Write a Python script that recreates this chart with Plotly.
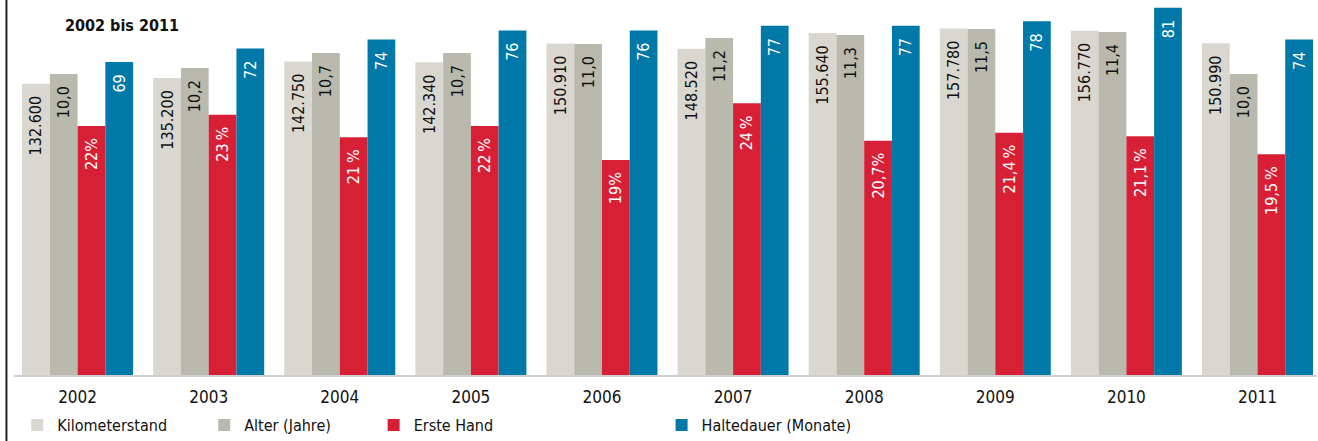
import plotly.graph_objects as go

years = ["2002", "2003", "2004", "2005", "2006", "2007", "2008", "2009", "2010", "2011"]
km = [132600, 135200, 142750, 142340, 150910, 148520, 155640, 157780, 156770, 150990]
km_text = ["132.600", "135.200", "142.750", "142.340", "150.910", "148.520", "155.640", "157.780", "156.770", "150.990"]
alter = [10.0, 10.2, 10.7, 10.7, 11.0, 11.2, 11.3, 11.5, 11.4, 10.0]
alter_text = ["10,0", "10,2", "10,7", "10,7", "11,0", "11,2", "11,3", "11,5", "11,4", "10,0"]
erste = [22, 23, 21, 22, 19, 24, 20.7, 21.4, 21.1, 19.5]
erste_text = ["22%", "23\u2009%", "21\u2009%", "22\u2009%", "19%", "24\u2009%", "20,7%", "21,4\u2009%", "21,1\u2009%", "19,5\u2009%"]
halte = [69, 72, 74, 76, 76, 77, 77, 78, 81, 74]
halte_text = ["69", "72", "74", "76", "76", "77", "77", "78", "81", "74"]

names = ["Kilometerstand", "Alter (Jahre)", "Erste Hand", "Haltedauer (Monate)"]
colors = ["#D9D7CF", "#B9B9AD", "#D72036", "#0079A8"]
text_colors = ["#111111", "#111111", "#FFFFFF", "#FFFFFF"]
series = [km, alter, erste, halte]
texts = [km_text, alter_text, erste_text, halte_text]
yranges = [[0, 170720], [0, 12.46], [0, 33.13], [0, 82.7]]
legend_x = [0.0025, 0.146, 0.276, 0.497]

FONT = "Liberation Sans Narrow, DejaVu Sans Condensed, Arial Narrow, sans-serif"
x = list(range(len(years)))
bw = 0.2117

fig = go.Figure()
for i in range(4):
    fig.add_trace(go.Bar(
        x=x, y=series[i], name=names[i],
        marker=dict(color=colors[i], line=dict(width=0)),
        width=bw, offset=(i - 2) * bw,
        text=texts[i], texttemplate="%{text}\u00a0\u00a0",
        textposition="inside", insidetextanchor="end", textangle=-90,
        textfont=dict(family=FONT, size=16, color=text_colors[i]),
        yaxis="y" if i == 0 else f"y{i+1}",
        legend="legend" if i == 0 else f"legend{i+1}",
        showlegend=True,
        hoverinfo="skip",
    ))

layout = dict(
    width=1318, height=441,
    margin=dict(l=14, r=1, t=0, b=66, autoexpand=False),
    plot_bgcolor="white", paper_bgcolor="white",
    barmode="overlay", showlegend=True,
    font=dict(family=FONT, size=16, color="#111111"),
    xaxis=dict(range=[-0.485, 9.454], tickmode="array", tickvals=x, ticktext=years,
               showgrid=False, zeroline=False, showline=True, linecolor="#CFCFCF",
               linewidth=2, ticks="", ticklabelstandoff=6, automargin=False,
               tickfont=dict(family=FONT, size=17, color="#111111")),
)
for i in range(4):
    key = "yaxis" if i == 0 else f"yaxis{i+1}"
    ax = dict(range=yranges[i], visible=False, showgrid=False, zeroline=False)
    if i > 0:
        ax["overlaying"] = "y"
    layout[key] = ax
    lkey = "legend" if i == 0 else f"legend{i+1}"
    layout[lkey] = dict(x=legend_x[i], y=0.0748, yref="container", xanchor="left", yanchor="top",
                        orientation="h", bgcolor="rgba(0,0,0,0)",
                        font=dict(family=FONT, size=16, color="#111111"))
fig.update_layout(**layout)

fig.add_annotation(text="<b>2002 bis 2011</b>", xref="paper", yref="paper",
                   x=0.0376, y=0.933, xanchor="left", yanchor="middle", showarrow=False,
                   font=dict(family=FONT, size=16, color="#111111"))
fig.add_shape(type="line", xref="paper", yref="paper", x0=-0.0058, x1=-0.0058,
              y0=-0.2, y1=1.0, line=dict(color="#222222", width=2))

fig.write_html("out.html", config={"displayModeBar": False},
               post_script="document.body.style.margin='0';document.body.style.overflow='hidden';")
